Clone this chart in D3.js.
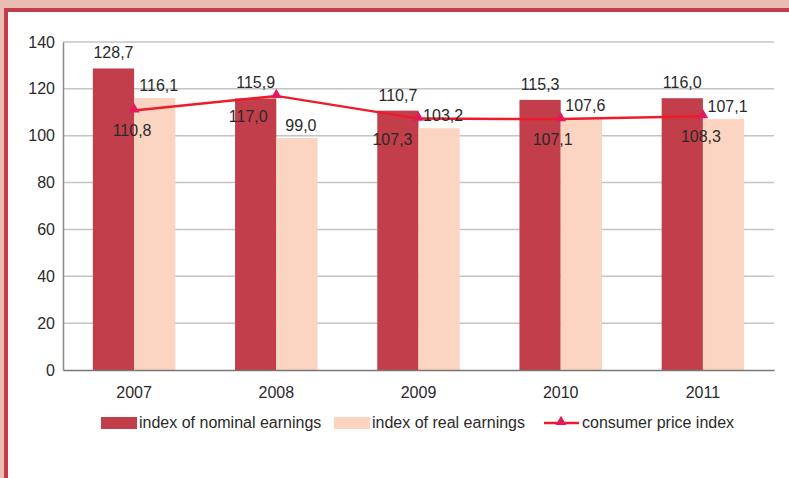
<!DOCTYPE html>
<html>
<head>
<meta charset="utf-8">
<script src="https://cdn.jsdelivr.net/npm/d3@7"></script>
<style>
    body { margin: 0; background: #fff; }
    svg { display: block; font-family: Arial, "Liberation Sans", sans-serif; }
</style>
</head>
<body>
<div id="chart"></div>
<script>
const years = ['2007', '2008', '2009', '2010', '2011'];
const nominal = [128.7, 115.9, 110.7, 115.3, 116.0];
const real = [116.1, 99.0, 103.2, 107.6, 107.1];
const cpi = [110.8, 117.0, 107.3, 107.1, 108.3];
const yTicks = [0, 20, 40, 60, 80, 100, 120, 140];

// label nudges for the cpi values (they sit under the line, left of the point)
const cpiLabelDx = [-2, -28, -26, -8, -2];

const width = 789, height = 478;
const margin = { top: 42, right: 15, bottom: 108, left: 63 };
const fontSize = 16;
const textColor = '#2a2a2a';

const svg = d3.select('#chart')
    .append('svg')
    .attr('width', width)
    .attr('height', height);

// frame
svg.append('rect').attr('x', 0).attr('y', 0).attr('width', width).attr('height', 8).attr('fill', '#e9bcb4');
svg.append('rect').attr('x', 0).attr('y', 0).attr('width', 4).attr('height', height).attr('fill', '#e9bcb4');
svg.append('rect').attr('x', 4).attr('y', 8).attr('width', width - 4).attr('height', 4).attr('fill', '#c23d4b');
svg.append('rect').attr('x', 4).attr('y', 8).attr('width', 4).attr('height', height - 8).attr('fill', '#c23d4b');

const x = d3.scaleBand()
    .domain(years)
    .range([margin.left, width - margin.right])
    .paddingInner(0.42)
    .paddingOuter(0.21);

const x1 = d3.scaleBand()
    .domain(['nominal', 'real'])
    .range([0, x.bandwidth()]);

const y = d3.scaleLinear()
    .domain([0, 140])
    .range([height - margin.bottom, margin.top]);

// grid
svg.append('g')
    .selectAll('line')
    .data(yTicks.filter(d => d > 0))
    .enter().append('line')
    .attr('x1', margin.left)
    .attr('x2', width - margin.right)
    .attr('y1', d => y(d))
    .attr('y2', d => y(d))
    .attr('stroke', '#c4c4c4')
    .attr('stroke-width', 1.5);

// y axis
const yAxis = svg.append('g')
    .attr('transform', `translate(${margin.left},0)`)
    .call(d3.axisLeft(y).tickValues(yTicks).tickSize(0).tickPadding(8));
yAxis.select('.domain').attr('stroke', '#8a8a8a').attr('stroke-width', 1.5);
yAxis.selectAll('text').attr('font-size', fontSize).attr('fill', textColor).attr('font-family', 'Arial, "Liberation Sans", sans-serif');

// bars
const groups = svg.append('g')
    .selectAll('g')
    .data(years.map((yr, i) => ({ year: yr, nominal: nominal[i], real: real[i] })))
    .enter().append('g')
    .attr('transform', d => `translate(${x(d.year)},0)`);

groups.append('rect')
    .attr('x', x1('nominal'))
    .attr('width', x1.bandwidth())
    .attr('y', d => y(d.nominal))
    .attr('height', d => y(0) - y(d.nominal))
    .attr('fill', '#c13e4a');

groups.append('rect')
    .attr('x', x1('real'))
    .attr('width', x1.bandwidth())
    .attr('y', d => y(d.real))
    .attr('height', d => y(0) - y(d.real))
    .attr('fill', '#fcd4c2');

// x axis
const xAxis = svg.append('g')
    .attr('transform', `translate(0,${y(0)})`)
    .call(d3.axisBottom(x).tickSize(0).tickPadding(17));
xAxis.select('.domain').attr('stroke', '#777').attr('stroke-width', 1.5);
xAxis.selectAll('text').attr('font-size', fontSize).attr('fill', textColor).attr('font-family', 'Arial, "Liberation Sans", sans-serif');

// cpi line
const cx = yr => x(yr) + x.bandwidth() / 2;
const line = d3.line()
    .x((d, i) => cx(years[i]))
    .y(d => y(d));

svg.append('path')
    .datum(cpi)
    .attr('d', line)
    .attr('fill', 'none')
    .attr('stroke', '#ee1c2b')
    .attr('stroke-width', 2.5);

const tri = d3.symbol().type(d3.symbolTriangle).size(50);
svg.append('g')
    .selectAll('path')
    .data(cpi)
    .enter().append('path')
    .attr('d', tri)
    .attr('transform', (d, i) => `translate(${cx(years[i])},${y(d) - 1})`)
    .attr('fill', '#e6175a');

// value labels
const labels = svg.append('g')
    .attr('font-size', fontSize)
    .attr('fill', textColor)
    .attr('text-anchor', 'middle');

const fmt = v => v.toFixed(1).replace('.', ',');

labels.selectAll('.nom')
    .data(nominal)
    .enter().append('text')
    .attr('x', (d, i) => x(years[i]) + x1('nominal') + x1.bandwidth() / 2)
    .attr('y', d => y(d) - 10)
    .text(fmt);

labels.selectAll('.real')
    .data(real)
    .enter().append('text')
    .attr('x', (d, i) => x(years[i]) + x1('real') + x1.bandwidth() / 2 + 4)
    .attr('y', d => y(d) - 7)
    .text(fmt);

labels.selectAll('.cpi')
    .data(cpi)
    .enter().append('text')
    .attr('x', (d, i) => cx(years[i]) + cpiLabelDx[i])
    .attr('y', d => y(d) + 26)
    .text(fmt);

// legend
const legend = svg.append('g')
    .attr('font-size', fontSize)
    .attr('fill', textColor);

legend.append('rect').attr('x', 101).attr('y', 417).attr('width', 36).attr('height', 12).attr('fill', '#c13e4a');
legend.append('text').attr('x', 139).attr('y', 428).text('index of nominal earnings');

legend.append('rect').attr('x', 334).attr('y', 417).attr('width', 36).attr('height', 12).attr('fill', '#fcd4c2');
legend.append('text').attr('x', 372).attr('y', 428).text('index of real earnings');

legend.append('line').attr('x1', 544).attr('x2', 579).attr('y1', 423).attr('y2', 423)
    .attr('stroke', '#ee1c2b').attr('stroke-width', 2.5);
legend.append('path').attr('d', tri).attr('transform', 'translate(561,422)').attr('fill', '#e6175a');
legend.append('text').attr('x', 582).attr('y', 428).text('consumer price index');
</script>
</body>
</html>
